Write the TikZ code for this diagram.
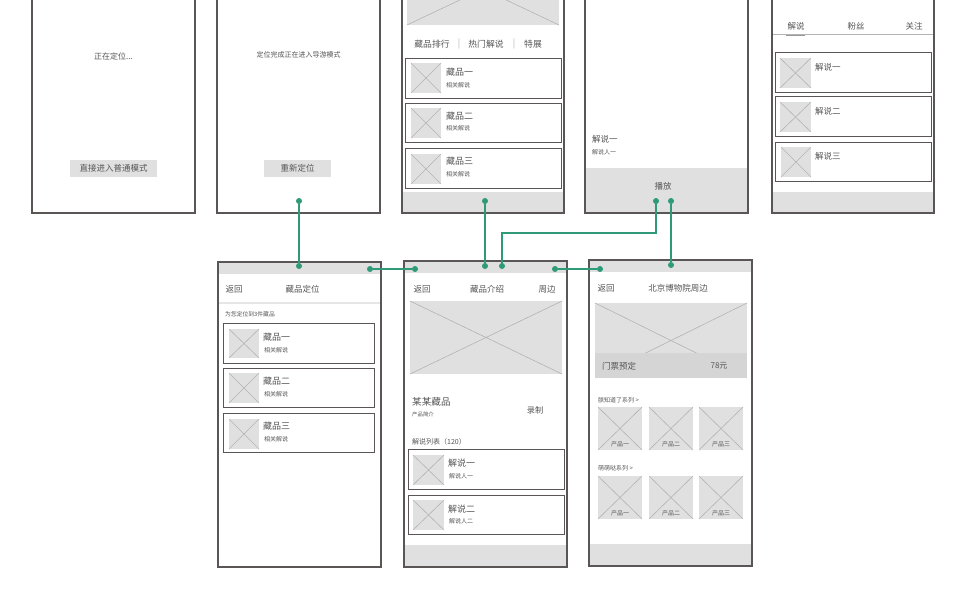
\documentclass[tikz,border=0pt]{standalone}
\usepackage{fontspec}
\setmainfont{Noto Sans CJK SC}
\definecolor{frm}{HTML}{5B5656}
\definecolor{barc}{HTML}{E1E0E1}
\definecolor{phf}{HTML}{E1E0E1}
\definecolor{phl}{HTML}{B3B3B3}
\definecolor{txt}{HTML}{555555}
\definecolor{grn}{HTML}{2E9A78}
\definecolor{bandc}{HTML}{D5D5D5}
\definecolor{sepc}{HTML}{E6E6E6}
\newcommand\fsz[1]{\fontsize{#1}{#1}\selectfont}
\newcommand\phbox[4]{\fill[phf] (#1,#2) rectangle (#3,#4);
  \draw[phl,line width=0.6pt] (#1,#2) -- (#3,#4) (#1,#4) -- (#3,#2);}
\tikzset{
  frame/.style={draw=frm, line width=1.1pt},
  itembox/.style={draw=frm, line width=1pt},
  barfill/.style={fill=barc},
  tx/.style={text=txt, inner sep=0pt, font=\fsz{8.5}},
  big/.style={tx, font=\fsz{9}},
  small/.style={tx, font=\fsz{6}},
  dot/.style={circle, fill=grn, inner sep=0pt, minimum size=6pt},
  conn/.style={draw=grn, line width=1.4pt}
}
\begin{document}
\begin{tikzpicture}[x=1pt,y=-1pt]
\useasboundingbox (0,0) rectangle (969,600);
\clip (0,0) rectangle (969,600);
\fill[white] (0,0) rectangle (969,600);

% ---------- S1
\fill[barc] (70,160) rectangle (157,177);
\node[tx, font=\fsz{8}] (s1a) at (113.5,56) {正在定位...};
\node[tx] (s1b) at (113.5,168.5) {直接进入普通模式};
\draw[frame] (32,-20) rectangle (195,213);

% ---------- S2
\fill[barc] (264,160) rectangle (331,177);
\node[tx, font=\fsz{7}] (s2a) at (298.5,54.5) {定位完成正在进入导游模式};
\node[tx] (s2b) at (297.5,168.5) {重新定位};
\draw[frame] (217,-20) rectangle (380,213);

% ---------- S3
\phbox{407}{-47}{559}{25}
\node[tx, font=\fsz{8.8}] (s3t1) at (432,44) {藏品排行};
\node[tx, text=phl, font=\fsz{9}] (s3p1) at (459,44) {|};
\node[tx, font=\fsz{8.8}] (s3t2) at (486,44) {热门解说};
\node[tx, text=phl, font=\fsz{9}] (s3p2) at (514,44) {|};
\node[tx, font=\fsz{8.8}] (s3t3) at (533,44) {特展};
\draw[itembox] (405,58) rectangle (561,98);
\phbox{411}{63}{441}{93}
\node[big, anchor=west] (s3i1) at (446,72) {藏品一};
\node[small, anchor=west] (s3i1b) at (446,85) {相关解说};
\draw[itembox] (405,103) rectangle (561,142);
\phbox{411}{108}{441}{138}
\node[big, anchor=west] (s3i2) at (446,116) {藏品二};
\node[small, anchor=west] (s3i2b) at (446,128.5) {相关解说};
\draw[itembox] (405,148) rectangle (561,188);
\phbox{411}{154}{441}{184}
\node[big, anchor=west] (s3i3) at (446,161.5) {藏品三};
\node[small, anchor=west] (s3i3b) at (446,174) {相关解说};
\fill[barc] (402,192) rectangle (564,213);
\draw[frame] (402,-20) rectangle (564,213);

% ---------- S4
\node[tx, anchor=west] (s4a) at (592,139) {解说一};
\node[small, anchor=west] (s4b) at (592,152) {解说人一};
\fill[barc] (585,168) rectangle (748,213);
\node[tx] (s4c) at (663,186) {播放};
\draw[frame] (585,-20) rectangle (748,213);

% ---------- S5
\node[tx] (s5t1) at (796,26.5) {解说};
\node[tx] (s5t2) at (856,26.5) {粉丝};
\node[tx] (s5t3) at (914,26.5) {关注};
\draw[draw=phl, line width=1pt] (772,34) -- (934,34);
\draw[draw=gray!80, line width=1.5pt] (786,35.5) -- (805,35.5);
\draw[itembox] (775,52) rectangle (931,92);
\phbox{780}{58}{811}{88}
\node[tx, anchor=west] (s5i1) at (815,67) {解说一};
\draw[itembox] (775,96) rectangle (931,136);
\phbox{780}{102}{811}{132}
\node[tx, anchor=west] (s5i2) at (815,111) {解说二};
\draw[itembox] (775,142) rectangle (931,181);
\phbox{781}{147}{811}{177}
\node[tx, anchor=west] (s5i3) at (815,156) {解说三};
\fill[barc] (772,192) rectangle (934,213);
\draw[frame] (772,-20) rectangle (934,213);

% ---------- B1
\fill[white] (218,262) rectangle (381,567);
\fill[barc] (218,262) rectangle (381,274);
\node[tx] (b1a) at (234,289.5) {返回};
\node[tx] (b1b) at (302.5,289.5) {藏品定位};
\draw[draw=sepc, line width=2pt] (218,302.5) -- (381,302.5);
\node[small, font=\fsz{5.8}, anchor=west] (b1c) at (225,314.5) {为您定位到3件藏品};
\draw[itembox] (223,323) rectangle (374,363);
\phbox{229}{329}{259}{358}
\node[big, anchor=west] (b1i1) at (263,337) {藏品一};
\node[small, anchor=west] (b1i1b) at (264,350) {相关解说};
\draw[itembox] (223,368) rectangle (374,407);
\phbox{229}{373}{259}{403}
\node[big, anchor=west] (b1i2) at (263,381) {藏品二};
\node[small, anchor=west] (b1i2b) at (264,394) {相关解说};
\draw[itembox] (223,413) rectangle (374,452);
\phbox{229}{419}{259}{449}
\node[big, anchor=west] (b1i3) at (263,426) {藏品三};
\node[small, anchor=west] (b1i3b) at (264,439) {相关解说};
\draw[frame] (218,262) rectangle (381,567);

% ---------- B2
\fill[barc] (404,261) rectangle (567,273);
\node[tx] (b2a) at (422,289.5) {返回};
\node[tx] (b2b) at (487,289.5) {藏品介绍};
\node[tx] (b2c) at (547,289.5) {周边};
\phbox{410}{301}{562}{374}
\node[tx, font=\fsz{9.6}, anchor=west] (b2d) at (412,402) {某某藏品};
\node[small, font=\fsz{5.4}, anchor=west] (b2e) at (412,414.5) {产品简介};
\node[tx, font=\fsz{8.2}] (b2f) at (535,410) {录制};
\node[tx, font=\fsz{7}, anchor=west] (b2g) at (412,442) {解说列表（120）};
\draw[itembox] (408,449) rectangle (564,489);
\phbox{413}{455}{444}{485}
\node[big, anchor=west] (b2i1) at (448,463.5) {解说一};
\node[small, anchor=west] (b2i1b) at (449,476) {解说人一};
\draw[itembox] (408,495) rectangle (564,534);
\phbox{413}{500}{444}{530}
\node[big, anchor=west] (b2i2) at (448,509) {解说二};
\node[small, anchor=west] (b2i2b) at (449,521.5) {解说人二};
\fill[barc] (404,545) rectangle (567,567);
\draw[frame] (404,261) rectangle (567,567);

% ---------- B3
\fill[barc] (589,260) rectangle (752,272);
\node[tx] (b3a) at (606,288.5) {返回};
\node[tx] (b3b) at (678,288.5) {北京博物院周边};
\phbox{595}{303}{747}{378}
\fill[bandc] (595,353) rectangle (747,378);
\node[tx, anchor=west] (b3c) at (602,366) {门票预定};
\node[tx, font=\fsz{8}] (b3d) at (719,366) {78元};
\node[small, font=\fsz{6}, anchor=west] (b3e) at (598,400) {朕知道了系列 >};
\phbox{598}{407}{642}{450}
\phbox{649}{407}{693}{450}
\phbox{699}{407}{743}{450}
\node[small] (b3p1) at (620,444) {产品一};
\node[small] (b3p2) at (671,444) {产品二};
\node[small] (b3p3) at (721,444) {产品三};
\node[small, font=\fsz{6}, anchor=west] (b3f) at (598,468) {萌萌哒系列 >};
\phbox{598}{476}{642}{519}
\phbox{649}{476}{693}{519}
\phbox{699}{476}{743}{519}
\node[small] (b3q1) at (620,513) {产品一};
\node[small] (b3q2) at (671,513) {产品二};
\node[small] (b3q3) at (721,513) {产品三};
\fill[barc] (589,544) rectangle (752,566);
\draw[frame] (589,260) rectangle (752,566);

% ---------- connectors
\node[dot] (d1) at (299,201) {};
\node[dot] (d2) at (299,266) {};
\node[dot] (d3) at (370,269) {};
\node[dot] (d4) at (415,269) {};
\node[dot] (d5) at (485,201) {};
\node[dot] (d6) at (485,266) {};
\node[dot] (d7) at (656,201) {};
\node[dot] (d8) at (502,266) {};
\node[dot] (d9) at (671,201) {};
\node[dot] (d10) at (671,265) {};
\node[dot] (d11) at (555,269) {};
\node[dot] (d12) at (600,269) {};
\coordinate (r1) at (656,233);
\coordinate (r2) at (502,233);
\draw[conn] (d1) -- (d2);
\draw[conn] (d3) -- (d4);
\draw[conn] (d5) -- (d6);
\draw[conn] (d7.center) -- (r1) -- (r2) -- (d8.center);
\draw[conn] (d9) -- (d10);
\draw[conn] (d11) -- (d12);
\end{tikzpicture}
\end{document}
